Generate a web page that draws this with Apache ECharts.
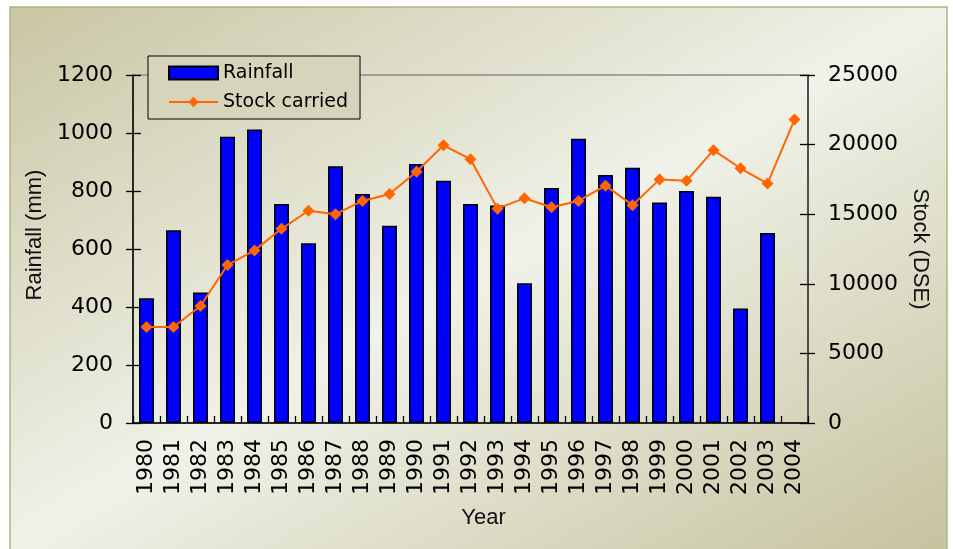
<!DOCTYPE html>
<html>
<head>
<meta charset="utf-8">
<script src="https://cdn.jsdelivr.net/npm/echarts@6/dist/echarts.min.js"></script>
<style>
  html, body { margin: 0; padding: 0; background: #fff; }
  #chart { width: 953px; height: 549px; }
</style>
</head>
<body>
<div id="chart"></div>
<script>
const years = ["1980", "1981", "1982", "1983", "1984", "1985", "1986", "1987", "1988", "1989",
  "1990", "1991", "1992", "1993", "1994", "1995", "1996", "1997", "1998", "1999",
  "2000", "2001", "2002", "2003", "2004"]
const rainfall = [430, 665, 450, 987, 1012, 755, 620, 885, 790, 680,
  893, 835, 755, 750, 482, 810, 980, 855, 880, 760,
  800, 780, 395, 655, null]
const stock = [6900, 6900, 8400, 11350, 12400, 13950, 15250, 15000, 15950, 16450,
  18050, 19950, 18950, 15400, 16150, 15500, 15950, 17050, 15650, 17500,
  17400, 19600, 18300, 17200, 21800]
const rainTicks = { min: 0, max: 1200, interval: 200 }
const stockTicks = { min: 0, max: 25000, interval: 5000 }

const plain = (v) => String(v)
const digitFont = { fontFamily: "DejaVu Sans", fontSize: 22, color: "#000" }
const nameFont = { fontFamily: "Liberation Sans", fontSize: 22, color: "#111" }
const tickLine = { color: "#000", width: 1.3 }

const chart = echarts.init(document.getElementById("chart"))

// extra axes only draw the inner half of the crossing tick marks
const innerY = (ticks, position) => ({
  type: "value", position, ...ticks,
  axisLine: { show: false }, axisLabel: { show: false }, splitLine: { show: false },
  axisTick: { show: true, inside: true, length: 8, lineStyle: tickLine },
})

chart.setOption({
  animation: false,
  graphic: [{
    type: "rect", z: -10, silent: true,
    shape: { x: 10, y: 7, width: 937, height: 560 },
    style: {
      stroke: "#b3b37f", lineWidth: 1.5,
      fill: new echarts.graphic.LinearGradient(245, -128, 711, 682, [
        { offset: 0, color: "#c9c6a4" },
        { offset: 0.5, color: "#f0f1e8" },
        { offset: 1, color: "#c6c39f" },
      ], true),
    },
  }],
  grid: { left: 133, right: 145, top: 75, bottom: 126, show: true, borderColor: "#8a8a8a", borderWidth: 1.5, backgroundColor: "transparent" },
  legend: {
    orient: "vertical", left: 148, top: 56,
    padding: [6, 12, 6, 20], itemGap: 7, itemWidth: 49, itemHeight: 13,
    backgroundColor: "#d6d4bb", borderColor: "#000", borderWidth: 1,
    textStyle: { fontFamily: "DejaVu Sans", fontSize: 19, color: "#000", lineHeight: 22 },
    data: [{ name: "Rainfall", icon: "rect" }, { name: "Stock carried" }],
  },
  xAxis: [{
    type: "category", data: years,
    name: "Year", nameLocation: "middle", nameGap: 84,
    nameTextStyle: { ...nameFont, padding: [0, 0, 0, 26] },
    axisLine: { lineStyle: { color: "#000", width: 1.5 } },
    axisTick: { length: 8, interval: 0, lineStyle: tickLine },
    axisLabel: { ...digitFont, rotate: 90, margin: 16, interval: 0 },
  }, {
    type: "category", data: years, position: "bottom",
    axisLine: { show: false }, axisLabel: { show: false },
    axisTick: { show: true, inside: true, interval: 0, length: 7, lineStyle: tickLine },
  }],
  yAxis: [{
    type: "value", position: "left", ...rainTicks,
    name: "Rainfall (mm)", nameLocation: "middle", nameGap: 67,
    nameTextStyle: { ...nameFont, padding: [0, 0, 0, 28] },
    axisLine: { show: true, lineStyle: { color: "#000", width: 1.5 } },
    axisTick: { show: true, length: 7, lineStyle: tickLine },
    axisLabel: { ...digitFont, margin: 20, formatter: plain },
    splitLine: { show: false },
  }, {
    type: "value", position: "right", ...stockTicks,
    name: "Stock (DSE)", nameLocation: "middle", nameGap: 85, nameRotate: -90,
    nameTextStyle: nameFont,
    axisLine: { show: true, lineStyle: { color: "#333", width: 1.5 } },
    axisTick: { show: true, length: 7, lineStyle: tickLine },
    axisLabel: { ...digitFont, margin: 20, formatter: plain },
    splitLine: { show: false },
  },
  innerY(rainTicks, "left"),
  innerY(stockTicks, "right")],
  series: [{
    name: "Rainfall", type: "bar", data: rainfall, barWidth: 15,
    itemStyle: { color: "#0000ff", borderColor: "#000", borderWidth: 1.5 },
  }, {
    name: "Stock carried", type: "line", yAxisIndex: 1, data: stock,
    symbol: "diamond", symbolSize: 12, showSymbol: true,
    itemStyle: { color: "#ff6600" },
    lineStyle: { color: "#ff6600", width: 2 },
  }],
})
</script>
</body>
</html>
